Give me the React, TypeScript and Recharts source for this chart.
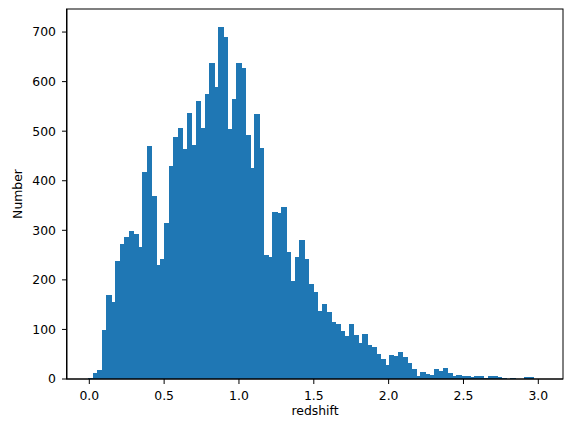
import { BarChart, Bar, XAxis, YAxis, Label } from "recharts"

// histogram bins: left edge of first bin and bin width (redshift units)
const binStart = -0.006
const binWidth = 0.03

// counts per bin (100 bins)
const counts = [
  3, 13, 18, 98, 170, 156, 239, 273, 286, 298,
  292, 267, 417, 471, 369, 229, 243, 314, 429, 489,
  507, 465, 536, 473, 560, 506, 574, 637, 590, 711,
  691, 504, 564, 637, 627, 493, 425, 534, 466, 251,
  247, 336, 334, 348, 257, 197, 247, 280, 243, 191,
  175, 138, 152, 136, 116, 110, 96, 86, 110, 88,
  72, 90, 68, 64, 51, 41, 29, 49, 47, 55,
  45, 33, 21, 7, 15, 11, 9, 20, 16, 22,
  12, 6, 8, 6, 6, 4, 6, 6, 2, 6,
  6, 4, 2, 0, 2, 0, 0, 4, 4, 1,
]

const xTicks = [0, 0.5, 1, 1.5, 2, 2.5, 3]
const yTicks = [0, 100, 200, 300, 400, 500, 600, 700]

const data = counts.map((n, i) => ({
  z: binStart + binWidth * (i + 0.5),
  n,
}))

const xDomain = [-0.149, 3.165]
const plotWidth = 496
// full bin width in px
const binPx = (binWidth * plotWidth) / (xDomain[1] - xDomain[0])

const font = "DejaVu Sans, sans-serif"
const tickStyle = { fontSize: 12.4, fill: "#000", fontFamily: font }

// histogram bin: keep the bar's centre and height from the scale, span the whole bin
const HistBar = (props: any) => {
  const { x, y, width, height, fill } = props
  if (!height || height <= 0) return null
  const left = Math.round(x + width / 2 - binPx / 2)
  const right = Math.round(x + width / 2 + binPx / 2)
  return (
    <rect
      x={left}
      y={y}
      width={right - left + 0.5}
      height={height}
      fill={fill}
      shapeRendering="crispEdges"
    />
  )
}

export default function App() {
  return (
    <div style={{ position: "absolute", left: 0, top: 0 }}>
      <BarChart
        width={571}
        height={432}
        data={data}
        margin={{ top: 9, right: 8, left: 0, bottom: 0 }}
        barCategoryGap={0}
        barGap={0}
      >
        <XAxis
          dataKey="z"
          type="number"
          domain={xDomain}
          ticks={xTicks}
          tickFormatter={(v) => v.toFixed(1)}
          height={53}
          tick={tickStyle}
          tickSize={5}
          tickMargin={7}
          stroke="#000"
          allowDataOverflow
        >
          <Label
            content={({ viewBox }: any) => (
              <text
                x={viewBox.x + viewBox.width / 2}
                y={viewBox.y + 36}
                textAnchor="middle"
                fontSize={12.4}
                fontFamily={font}
                fill="#000"
              >
                redshift
              </text>
            )}
          />
        </XAxis>
        <YAxis
          type="number"
          domain={[0, 746.5]}
          ticks={yTicks}
          width={67}
          tick={tickStyle}
          tickSize={5}
          tickMargin={6}
          stroke="#000"
          allowDataOverflow
        >
          <Label
            content={({ viewBox }: any) => {
              const cx = 17
              const cy = viewBox.y + viewBox.height / 2
              return (
                <text
                  x={cx}
                  y={cy}
                  transform={`rotate(-90 ${cx} ${cy})`}
                  textAnchor="middle"
                  dominantBaseline="central"
                  fontSize={12.4}
                  fontFamily={font}
                  fill="#000"
                >
                  Number
                </text>
              )
            }}
          />
        </YAxis>
        <Bar
          dataKey="n"
          fill="#1f77b4"
          shape={HistBar}
          isAnimationActive={false}
        />
      </BarChart>
      <svg
        width={571}
        height={432}
        style={{ position: "absolute", left: 0, top: 0, pointerEvents: "none" }}
      >
        <rect x={66.5} y={9} width={496.5} height={370} fill="none" stroke="#000" strokeWidth={1} />
      </svg>
    </div>
  )
}
